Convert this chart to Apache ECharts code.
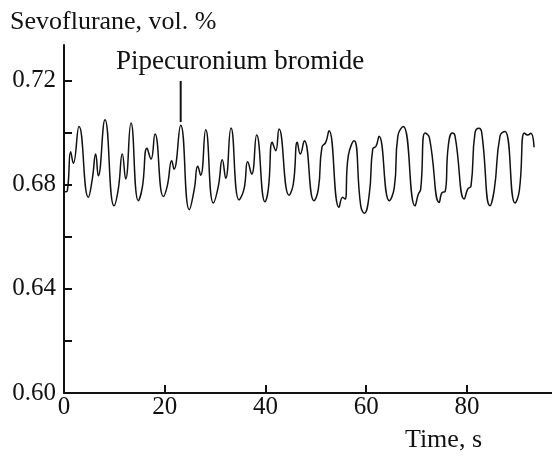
<!DOCTYPE html>
<html>
<head>
<meta charset="utf-8">
<script src="https://cdn.jsdelivr.net/npm/echarts@6/dist/echarts.min.js"></script>
<style>
  html, body { margin: 0; padding: 0; background: #fff; }
  #chart { width: 552px; height: 457px; }
</style>
</head>
<body>
<div id="chart"></div>
<script>
// Time (s) and sevoflurane concentration (vol. %)
const timeS = [0.20,0.66,1.33,1.85,2.98,4.83,5.62,6.29,6.81,8.14,9.93,10.78,11.58,12.25,13.30,14.75,15.55,16.48,17.28,18.07,
  19.72,20.51,21.39,21.84,23.17,24.88,25.87,26.55,27.14,28.14,29.65,30.64,31.43,32.11,33.16,34.75,35.74,36.48,37.27,38.26,
  39.91,40.57,41.36,42.04,42.69,44.68,45.53,46.33,46.92,47.72,49.64,50.50,51.21,51.97,52.62,54.61,55.34,55.80,56.45,57.59,
  58.92,59.63,60.62,61.30,61.95,62.55,64.59,65.59,66.30,67.37,69.70,70.35,70.83,71.68,72.54,74.52,75.12,75.66,76.31,77.10,
  77.64,79.49,80.16,80.82,81.61,82.40,82.94,84.59,85.45,86.58,87.57,89.56,90.41,91.40,92.08,92.67,93.33];
const sevo = [0.6773,0.6777,0.6927,0.6883,0.7024,0.6752,0.6822,0.6918,0.6835,0.7050,0.6719,0.6783,0.6918,0.6822,0.7037,0.6739,0.6790,0.6940,0.6899,0.6995,
  0.6755,0.6796,0.6892,0.6860,0.7029,0.6704,0.6783,0.6871,0.6837,0.7011,0.6730,0.6794,0.6896,0.6825,0.7018,0.6742,0.6783,0.6888,0.6841,0.6991,
  0.6735,0.6783,0.6963,0.6931,0.7014,0.6760,0.6803,0.6963,0.6918,0.6969,0.6739,0.6783,0.6944,0.6963,0.7008,0.6713,0.6752,0.6745,0.6911,0.6969,
  0.6719,0.6691,0.6764,0.6937,0.6948,0.6986,0.6739,0.6790,0.6988,0.7024,0.6719,0.6764,0.6783,0.6999,0.6982,0.6732,0.6771,0.6773,0.6950,0.6999,
  0.6988,0.6745,0.6783,0.6796,0.6999,0.7017,0.7001,0.6719,0.6783,0.6988,0.7005,0.6730,0.6777,0.6999,0.6991,0.6998,0.6944];

// Annotation marker (drug injection)
const markerTime = [23.17, 23.17];
const markerValue = [0.7041, 0.7199];
const markerText = 'Pipecuronium bromide';

// Axis ticks and labels
const xLabelValues = [0, 20, 40, 60, 80];
const xTickValues = [20, 40, 60, 80];
const yLabelValues = [0.60, 0.64, 0.68, 0.72];
const yTickValues = [0.62, 0.64, 0.66, 0.68, 0.70, 0.72];

const yTitle = 'Sevoflurane, vol. %';
const xTitle = 'Time, s';

const FONT = '"Liberation Serif", "Times New Roman", serif';
const INK = '#111';

const chart = echarts.init(document.getElementById('chart'), null, { renderer: 'canvas' });
chart.setOption({
  animation: false,
  backgroundColor: '#fff',
  grid: { left: 64, right: 0, top: 45, bottom: 64, containLabel: false },
  xAxis: {
    type: 'value', min: 0, max: 96.9,
    axisLine: { show: true, onZero: false, lineStyle: { color: INK, width: 2 } },
    axisTick: { show: true, inside: true, length: 8, lineStyle: { color: INK, width: 2 }, customValues: xTickValues },
    axisLabel: { show: true, margin: 2, color: INK, fontFamily: FONT, fontSize: 25, customValues: xLabelValues,
      formatter: v => String(v) },
    splitLine: { show: false }
  },
  yAxis: {
    type: 'value', min: 0.60, max: 0.7337,
    axisLine: { show: true, onZero: false, lineStyle: { color: INK, width: 2 } },
    axisTick: { show: true, inside: true, length: 8, lineStyle: { color: INK, width: 2 }, customValues: yTickValues },
    axisLabel: { show: true, margin: 8, color: INK, fontFamily: FONT, fontSize: 25, customValues: yLabelValues,
      formatter: v => v.toFixed(2) },
    splitLine: { show: false }
  },
  series: [
    {
      type: 'line', data: timeS.map((t, i) => [t, sevo[i]]),
      showSymbol: false, smooth: 0.5,
      lineStyle: { color: INK, width: 1.5 }
    },
    {
      type: 'line', data: markerTime.map((t, i) => [t, markerValue[i]]),
      showSymbol: false,
      lineStyle: { color: INK, width: 2 }
    }
  ],
  graphic: [
    { type: 'text', left: 10, top: 9, style: { text: yTitle, font: '26px ' + FONT, fill: INK } },
    { type: 'text', left: 116, top: 48, style: { text: markerText, font: '27px ' + FONT, fill: INK } },
    { type: 'text', right: 70, top: 427, style: { text: xTitle, font: '26px ' + FONT, fill: INK } }
  ]
});
</script>
</body>
</html>
